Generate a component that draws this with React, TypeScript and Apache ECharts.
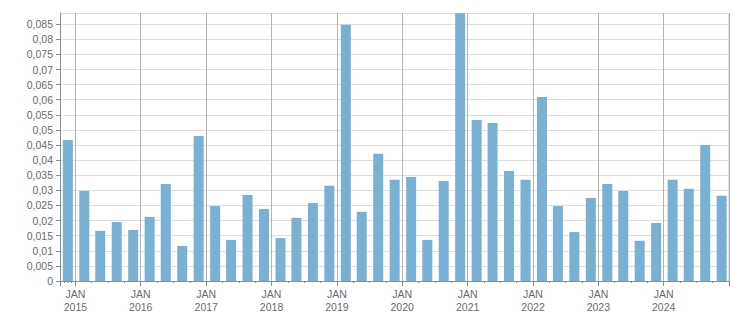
import React, { useEffect, useRef } from "react";
import * as echarts from "echarts";

const dates: string[] = [
  "2014-11-20", "2015-02-20", "2015-05-20", "2015-08-20",
  "2015-11-20", "2016-02-20", "2016-05-20", "2016-08-20",
  "2016-11-20", "2017-02-20", "2017-05-20", "2017-08-20",
  "2017-11-20", "2018-02-20", "2018-05-20", "2018-08-20",
  "2018-11-20", "2019-02-20", "2019-05-20", "2019-08-20",
  "2019-11-20", "2020-02-20", "2020-05-20", "2020-08-20",
  "2020-11-20", "2021-02-20", "2021-05-20", "2021-08-20",
  "2021-11-20", "2022-02-20", "2022-05-20", "2022-08-20",
  "2022-11-20", "2023-02-20", "2023-05-20", "2023-08-20",
  "2023-11-20", "2024-02-20", "2024-05-20", "2024-08-20",
  "2024-11-20",
];

const values: number[] = [
  0.0467, 0.0298, 0.0166, 0.0195,
  0.0169, 0.0212, 0.0321, 0.0116,
  0.048, 0.0248, 0.0136, 0.0285,
  0.0238, 0.0142, 0.0209, 0.0258,
  0.0315, 0.0848, 0.0229, 0.0421,
  0.0335, 0.0344, 0.0136, 0.0331,
  0.0886, 0.0533, 0.0523, 0.0364,
  0.0335, 0.0609, 0.0248, 0.0162,
  0.0275, 0.0321, 0.0298, 0.0133,
  0.0192, 0.0335, 0.0305, 0.045,
  0.0282,
];

// ECharts widens a time axis by half a bar on each side; these bounds
// are chosen so the final visible range is about 2014-10-07 .. 2024-12-31.
const xMin = "2014-11-04";
const xMax = "2024-12-03";
const yMax = 0.0887;
const yStep = 0.005;
const monthLabel = "JAN";

const FONT = "Liberation Sans";
const TEXT = "#6a6a72";

export default function App() {
  const ref = useRef<HTMLDivElement>(null);
  useEffect(() => {
    document.body.style.margin = "0";
    if (!ref.current) return;
    const chart = echarts.init(ref.current, null, { renderer: "svg" });
    const YEAR = 365 * 24 * 3600 * 1000;
    chart.setOption({
      animation: false,
      grid: { left: 60, right: 22, top: 13, bottom: 32, containLabel: false },
      xAxis: {
        type: "time",
        min: xMin,
        max: xMax,
        minInterval: YEAR,
        maxInterval: YEAR + 2 * 24 * 3600 * 1000,
        axisLine: { show: true, lineStyle: { color: "#8c8c8c", width: 1 } },
        axisTick: { show: true, length: 5, lineStyle: { color: "#8c8c8c" } },
        minorTick: { show: true, splitNumber: 4, length: 2, lineStyle: { color: "#8c8c8c" } },
        splitLine: { show: true, lineStyle: { color: "#b4b4b4", width: 1 } },
        axisLabel: {
          margin: 6,
          color: TEXT,
          fontFamily: FONT,
          fontSize: 10.5,
          lineHeight: 13,
          hideOverlap: false,
          showMinLabel: false,
          showMaxLabel: false,
          formatter: (v: number) => {
            const d = new Date(v);
            if (d.getMonth() !== 0 || d.getDate() !== 1) return "";
            return monthLabel + "\n" + d.getFullYear();
          },
        },
      },
      yAxis: {
        type: "value",
        min: 0,
        max: yMax,
        interval: yStep,
        axisLine: { show: true, lineStyle: { color: "#8c8c8c", width: 1 } },
        axisTick: { show: true, length: 4, lineStyle: { color: "#8c8c8c" } },
        splitLine: { show: true, lineStyle: { color: "#dedede", width: 1 } },
        axisLabel: {
          margin: 7,
          color: TEXT,
          fontFamily: FONT,
          fontSize: 10.5,
          showMaxLabel: false,
          formatter: (v: number) => {
            if (v === 0) return "0";
            return parseFloat(v.toFixed(3)).toString().replace(".", ",");
          },
        },
      },
      graphic: [
        {
          type: "line",
          shape: { x1: 728.5, y1: 13, x2: 728.5, y2: 281 },
          style: { stroke: "#dedede", lineWidth: 1 },
          silent: true,
        },
      ],
      series: [
        {
          type: "bar",
          barWidth: 10,
          itemStyle: { color: "#78b1d3" },
          data: dates.map((d, i) => [d, values[i]]),
        },
      ],
    });
    return () => chart.dispose();
  }, []);
  return <div ref={ref} style={{ width: 751, height: 313 }} />;
}
